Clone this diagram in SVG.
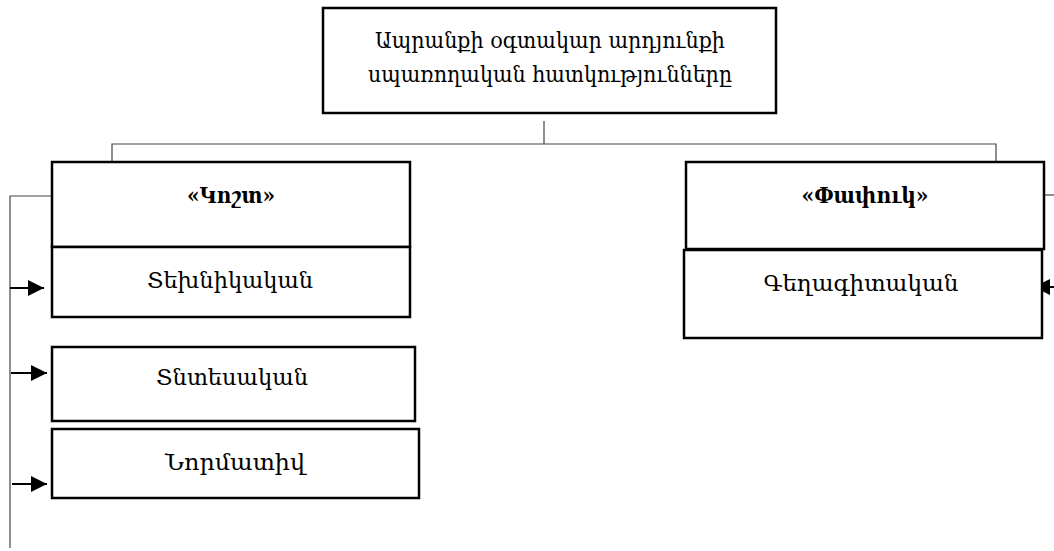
<svg xmlns="http://www.w3.org/2000/svg" width="1054" height="551" viewBox="0 0 1054 551">
<style>
.box{fill:#fff;stroke:#000;stroke-width:2.5}
.t{font-family:"DejaVu Serif","Noto Sans",serif;font-size:23px;fill:#000;text-anchor:middle}
.b{font-weight:bold;font-size:22px}
.c{fill:none;stroke:#444;stroke-width:1.2}
.a{fill:none;stroke:#000;stroke-width:2}
</style>
<defs>
<marker id="ah" markerWidth="8" markerHeight="8" refX="8" refY="4" orient="auto" markerUnits="strokeWidth">
<path d="M0,0 L8,4 L0,8 Z" fill="#000"/>
</marker>
</defs>
<g id="connectors">
<path class="c" d="M544,121 V144"/>
<path class="c" d="M112,162 V144 H996 V162"/>
<path class="c" d="M52,196 H10 V548"/>
<path class="c" d="M1044,195 H1054"/>
<path class="a" d="M10,288 H44" marker-end="url(#ah)"/>
<path class="a" d="M11,373 H47" marker-end="url(#ah)"/>
<path class="a" d="M12,484 H47" marker-end="url(#ah)"/>
<path class="a" d="M1054,287 H1034" marker-end="url(#ah)"/>
</g>
<g id="top">
<rect class="box" x="323" y="8" width="453" height="105"/>
<text class="t" x="550" y="48" textLength="350" lengthAdjust="spacingAndGlyphs">Ապրանքի օգտակար արդյունքի</text>
<text class="t" x="550" y="82" textLength="364" lengthAdjust="spacingAndGlyphs">սպառողական հատկությունները</text>
</g>
<g id="kosht">
<rect class="box" x="52" y="162" width="358" height="85"/>
<text class="t b" x="231" y="203" textLength="88" lengthAdjust="spacingAndGlyphs">«Կոշտ»</text>
</g>
<g id="tekhnikakan">
<rect class="box" x="52" y="247" width="358" height="70"/>
<text class="t" x="230" y="288" textLength="166" lengthAdjust="spacingAndGlyphs">Տեխնիկական</text>
</g>
<g id="tntesakan">
<rect class="box" x="52" y="347" width="363" height="74"/>
<text class="t" x="232" y="385" textLength="152" lengthAdjust="spacingAndGlyphs">Տնտեսական</text>
</g>
<g id="normativ">
<rect class="box" x="52" y="429" width="367" height="69"/>
<text class="t" x="235" y="470" textLength="140" lengthAdjust="spacingAndGlyphs">Նորմատիվ</text>
</g>
<g id="papuk">
<rect class="box" x="686" y="162" width="358" height="87"/>
<text class="t b" x="865" y="203" textLength="127" lengthAdjust="spacingAndGlyphs">«Փափուկ»</text>
</g>
<g id="geghagitakan">
<rect class="box" x="684" y="250" width="358" height="88"/>
<text class="t" x="861" y="291" textLength="195" lengthAdjust="spacingAndGlyphs">Գեղագիտական</text>
</g>
</svg>
